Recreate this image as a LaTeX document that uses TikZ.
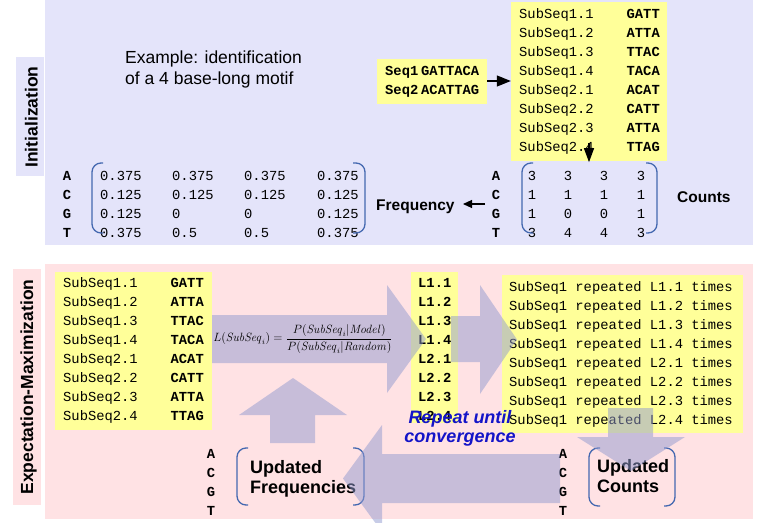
\documentclass[tikz,border=0pt]{standalone}
\usepackage[no-math]{fontspec}
\setmainfont{Liberation Sans}
\newfontfamily\mono{Liberation Mono}
\usetikzlibrary{arrows.meta}
\definecolor{lavbg}{RGB}{228,228,250}
\definecolor{pinkbg}{RGB}{255,226,228}
\definecolor{yel}{RGB}{255,255,153}
\definecolor{brkc}{RGB}{68,104,176}
\definecolor{fatc}{RGB}{145,154,208}
\definecolor{rptblue}{RGB}{20,20,200}
\begin{document}
\begin{tikzpicture}[x=1pt,y=-1pt,
  mt/.style={font=\mono\fontsize{13.8}{16}\selectfont, inner sep=0pt},
  mtb/.style={font=\mono\bfseries\fontsize{13.8}{16}\selectfont, inner sep=0pt},
  ybox/.style={fill=yel, draw=none, inner sep=0pt},
  brk/.style={draw=brkc, line width=1.3pt, rounded corners=9pt},
  fat/.style={fill=fatc, fill opacity=0.5, draw=none},
  blk/.style={draw=black, line width=1.3pt},
  lab/.style={font=\bfseries\fontsize{17.5}{20}\selectfont, inner sep=0pt, rotate=90, anchor=base},
  bsans/.style={font=\bfseries\fontsize{15.5}{18}\selectfont, inner sep=0pt, anchor=base west},
  upd/.style={font=\bfseries\fontsize{18}{20}\selectfont, inner sep=0pt, anchor=base west},
  rpt/.style={font=\bfseries\itshape\fontsize{18}{20}\selectfont, text=rptblue, inner sep=0pt, anchor=base},
  extext/.style={font=\fontsize{17.5}{20}\selectfont, inner sep=0pt, anchor=base west}
]
\useasboundingbox (0,0) rectangle (757,522);
\clip (0,0) rectangle (757,522);
\fill[white] (0,0) rectangle (757,522);

% panels
\fill[lavbg] (45,0) rectangle (753,245);
\fill[pinkbg] (45,264) rectangle (753,519);
\fill[lavbg] (16,57) rectangle (44,176);
\fill[pinkbg] (13,269) rectangle (41,505);
\node[lab] (initlab) at (37.5,117) {Initialization};
\node[lab] (emlab) at (33,387) {Expectation-Maximization};

% ---------- initialization panel ----------
\node[extext] (ex1) at (125,63) {Example: identification};
\node[extext] (ex2) at (125,84) {of a 4 base-long motif};

\node[ybox, minimum width=110pt, minimum height=45pt] (seqbox) at (432,81) {};
\node[mtb, anchor=mid west] (s1) at (385,73) {Seq1};
\node[mtb, anchor=mid west] (s1v) at (421,73) {GATTACA};
\node[mtb, anchor=mid west] (s2) at (385,92) {Seq2};
\node[mtb, anchor=mid west] (s2v) at (421,92) {ACATTAG};

\node[ybox, minimum width=156pt, minimum height=159pt] (subbox) at (589,81.5) {};
\foreach \n/\s [count=\k from 0] in {1.1/GATT,1.2/ATTA,1.3/TTAC,1.4/TACA,2.1/ACAT,2.2/CATT,2.3/ATTA,2.4/TTAG}{
  \node[mt, anchor=mid west] (tsl\k) at (519,16+19*\k) {SubSeq\n};
  \node[mtb, anchor=mid east] (tsr\k) at (660,16+19*\k) {\s};
}
\draw[blk, -{Triangle[length=14pt,width=11pt]}] (seqbox.east) -- (seqbox.east -| subbox.west);
\draw[blk, -{Triangle[length=14pt,width=10pt]}] ([yshift=18pt]subbox.south) -- ([yshift=-1pt]subbox.south);

% counts matrix
\foreach \b/\a/\c/\d/\e [count=\k from 0] in {A/3/3/3/3,C/1/1/1/1,G/1/0/0/1,T/3/4/4/3}{
  \node[mtb, anchor=mid] (cl\k) at (496,178+19*\k) {\b};
  \node[mt, anchor=mid] (ca\k) at (532,178+19*\k) {\a};
  \node[mt, anchor=mid] (cb\k) at (568,178+19*\k) {\c};
  \node[mt, anchor=mid] (cc\k) at (604,178+19*\k) {\d};
  \node[mt, anchor=mid] (cd\k) at (641,178+19*\k) {\e};
}
\draw[brk] (533,163) -- (522,163) -- (522,233) -- (533,233);
\draw[brk] (646,163) -- (657,163) -- (657,233) -- (646,233);
\node[bsans] (counts) at (677,202) {Counts};

% frequency matrix
\foreach \b/\a/\c/\d/\e [count=\k from 0] in {A/0.375/0.375/0.375/0.375,C/0.125/0.125/0.125/0.125,G/0.125/0/0/0.125,T/0.375/0.5/0.5/0.375}{
  \node[mtb, anchor=mid] (fl\k) at (67,178+19*\k) {\b};
  \node[mt, anchor=mid west] (fa\k) at (100,178+19*\k) {\a};
  \node[mt, anchor=mid west] (fb\k) at (172,178+19*\k) {\c};
  \node[mt, anchor=mid west] (fc\k) at (244,178+19*\k) {\d};
  \node[mt, anchor=mid west] (fd\k) at (317,178+19*\k) {\e};
}
\draw[brk] (103,163) -- (92,163) -- (92,233) -- (103,233);
\draw[brk] (353,163) -- (365,163) -- (365,233) -- (353,233);
\node[bsans] (freq) at (376,210) {Frequency};
\coordinate (fstart) at (485,204);
\coordinate (fend) at (463,204);
\draw[blk, line width=1.1pt, -{Triangle[length=9pt,width=8pt]}] (fstart) -- (fend);

% ---------- EM panel ----------
\node[ybox, minimum width=157pt, minimum height=158pt] (bsub) at (133.5,351) {};
\foreach \n/\s [count=\k from 0] in {1.1/GATT,1.2/ATTA,1.3/TTAC,1.4/TACA,2.1/ACAT,2.2/CATT,2.3/ATTA,2.4/TTAG}{
  \node[mt, anchor=mid west] (bsl\k) at (63,285+19*\k) {SubSeq\n};
  \node[mtb, anchor=mid east] (bsr\k) at (204,285+19*\k) {\s};
}
\node[ybox, minimum width=47pt, minimum height=151pt] (lbox) at (434.5,347.5) {};
\foreach \n [count=\k from 0] in {1.1,1.2,1.3,1.4,2.1,2.2,2.3,2.4}{
  \node[mtb, anchor=mid west] (ll\k) at (418,285+19*\k) {L\n};
}
\node[ybox, minimum width=241pt, minimum height=158pt] (rbox) at (622.5,354) {};
\foreach \n [count=\k from 0] in {1.1,1.2,1.3,1.4,2.1,2.2,2.3,2.4}{
  \node[mt, anchor=mid west] (rl\k) at (509,289+19*\k) {SubSeq1 repeated L\n\ times};
}

% updated frequencies / counts
\foreach \b [count=\k from 0] in {A,C,G,T}{
  \node[mtb, anchor=mid] (ul\k) at (211,456+19*\k) {\b};
  \node[mtb, anchor=mid] (vl\k) at (563,456+19*\k) {\b};
}
\draw[brk] (248,448) -- (237,448) -- (237,505) -- (248,505);
\draw[brk] (353,448) -- (364,448) -- (364,505) -- (353,505);
\node[upd] (uf1) at (250,473) {Updated};
\node[upd] (uf2) at (250,493) {Frequencies};
\draw[brk] (600,448) -- (589,448) -- (589,506) -- (600,506);
\draw[brk] (664,448) -- (675,448) -- (675,506) -- (664,506);
\node[upd] (uc1) at (597,472) {Updated};
\node[upd] (uc2) at (597,492) {Counts};

% fat arrows
\fill[fat] (212,315) -- (387,315) -- (387,285) -- (426,339) -- (387,393) -- (387,363) -- (212,363) -- cycle;
\fill[fat] (451,316) -- (480,316) -- (480,285) -- (517,339.5) -- (480,394) -- (480,362) -- (451,362) -- cycle;
\fill[fat] (608,408) -- (653,408) -- (653,437) -- (685,437) -- (631,471) -- (577,437) -- (608,437) -- cycle;
\fill[fat] (560,454) -- (382,454) -- (382,425) -- (343,478.5) -- (382,532) -- (382,503) -- (560,503) -- cycle;
\fill[fat] (270,443) -- (270,415) -- (239,415) -- (293,378) -- (347,415) -- (315,415) -- (315,443) -- cycle;

% formula
\node[inner sep=0pt, font=\fontsize{12}{14}\selectfont] (formula) at (303,339)
  {$L(\mathit{SubSeq}_i)=\displaystyle\frac{P(\mathit{SubSeq}_i|\mathit{Model})}{P(\mathit{SubSeq}_i|\mathit{Random})}$};

% repeat text
\node[rpt] (rpt1) at (460,423) {Repeat until};
\node[rpt] (rpt2) at (460,442) {convergence};
\end{tikzpicture}
\end{document}
